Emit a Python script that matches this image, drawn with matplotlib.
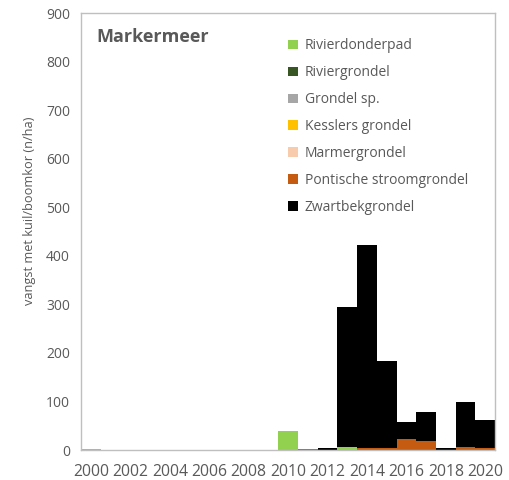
import matplotlib
matplotlib.use("Agg")
import matplotlib.pyplot as plt
from matplotlib.patches import Patch
import numpy as np

plt.rcParams.update({"font.family": ["Open Sans", "DejaVu Sans"], "font.size": 10})

years = list(range(2000, 2021))
species = ["Rivierdonderpad", "Riviergrondel", "Grondel sp.", "Kesslers grondel",
           "Marmergrondel", "Pontische stroomgrondel", "Zwartbekgrondel"]
colors = ["#92D050", "#375623", "#A6A6A6", "#FFC000", "#F8CBAD", "#C55A11", "#000000"]

#            2000 01 02 03 04 05 06 07 08 09 2010 11 12 13 14 15 16 17 18 19 2020
rivierdonderpad = [3, 0, 0, 0, 0, 0, 0, 0, 0, 0, 40, 0, 0, 7, 0, 0, 0, 0, 0, 0, 0]
riviergrondel   = [0] * 21
grondel_sp      = [0] * 21
kesslers        = [0] * 21
marmer          = [0, 0, 0, 0, 0, 0, 0, 0, 0, 0, 0, 1, 0, 0, 0, 0, 0, 0, 0, 0, 0]
pontische       = [0, 0, 0, 0, 0, 0, 0, 0, 0, 0, 0, 2, 0, 0, 4, 5, 22, 19, 0, 6, 5]
zwartbek        = [0, 0, 0, 0, 0, 0, 0, 0, 0, 0, 0, 0, 5, 287, 418, 178, 36, 59, 5, 92, 57]
series = [rivierdonderpad, riviergrondel, grondel_sp, kesslers, marmer, pontische, zwartbek]

GREY = "#595959"
fig = plt.figure(figsize=(5.1, 4.8), dpi=100)
ax = fig.add_axes([0.159, 0.0625, 0.812, 0.910])

bottom = np.zeros(len(years))
for name, vals, col in zip(species, series, colors):
    ax.bar(years, vals, width=1.0, bottom=bottom, color=col, linewidth=0)
    bottom += np.array(vals)

ax.set_xlim(1999.5, 2020.5)
ax.set_ylim(0, 900)
ax.set_xticks(range(2000, 2021, 2))
ax.set_yticks(range(0, 901, 100))
ax.tick_params(length=0, colors=GREY)
ax.tick_params(axis="y", labelsize=10, pad=8)
ax.tick_params(axis="x", labelsize=11.3, pad=10)
for s in ax.spines.values():
    s.set_color("#BFBFBF")
    s.set_linewidth(1.0)
ax.set_ylabel("vangst met kuil/boomkor (n/ha)", color=GREY, fontsize=9.2)
ax.yaxis.set_label_coords(-0.11, 0.547)

ax.text(0.038, 0.945, "Markermeer", transform=ax.transAxes, fontsize=13,
        fontweight="bold", color=GREY, va="center")

handles = [Patch(facecolor=c, edgecolor="none") for c in colors]
ax.legend(handles, species, loc="upper left", bbox_to_anchor=(0.47, 0.971), frameon=False,
          fontsize=10, labelcolor=GREY, handlelength=0.7, handleheight=0.7,
          handletextpad=0.5, labelspacing=0.86)

fig.savefig("out.png", dpi=100)
